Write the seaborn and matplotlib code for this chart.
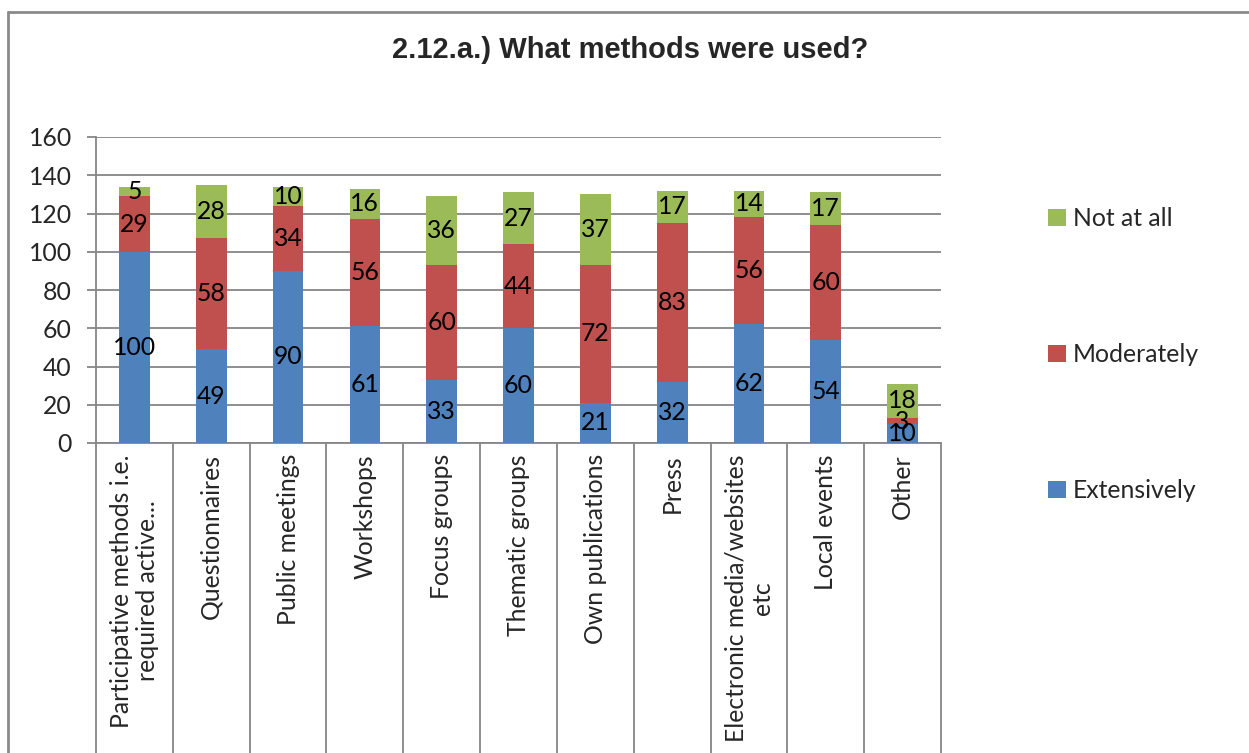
import matplotlib
matplotlib.use("Agg")
import matplotlib.pyplot as plt
from matplotlib.lines import Line2D
from matplotlib.patches import Patch
import numpy as np
import pandas as pd
import seaborn as sns

categories = [
    "Participative methods i.e.\nrequired active...",
    "Questionnaires",
    "Public meetings",
    "Workshops",
    "Focus groups",
    "Thematic groups",
    "Own publications",
    "Press",
    "Electronic media/websites\netc",
    "Local events",
    "Other",
]
extensively = [100, 49, 90, 61, 33, 60, 21, 32, 62, 54, 10]
moderately = [29, 58, 34, 56, 60, 44, 72, 83, 56, 60, 3]
not_at_all = [5, 28, 10, 16, 36, 27, 37, 17, 14, 17, 18]
series_names = ["Extensively", "Moderately", "Not at all"]
y_ticks = [0, 20, 40, 60, 80, 100, 120, 140, 160]

colors = {"Extensively": "#4F81BD", "Moderately": "#C0504D", "Not at all": "#9BBB59"}
grid_gray = "#868686"

sns.set_style("white")
plt.rcParams["font.family"] = ["Lato", "DejaVu Sans"]

df = pd.DataFrame({
    "category": categories,
    "Extensively": extensively,
    "Moderately": moderately,
    "Not at all": not_at_all,
})
df["cum1"] = df["Extensively"]
df["cum2"] = df["cum1"] + df["Moderately"]
df["cum3"] = df["cum2"] + df["Not at all"]

fig = plt.figure(figsize=(12.49, 7.53), dpi=100)
ax = fig.add_axes([96 / 1249, 310 / 753, 845 / 1249, 306 / 753])

# stacked bars: draw cumulative totals back to front
for col, name in [("cum3", "Not at all"), ("cum2", "Moderately"), ("cum1", "Extensively")]:
    sns.barplot(data=df, x="category", y=col, order=categories, color=colors[name],
                saturation=1, width=0.4, ax=ax, zorder=3, edgecolor="none")

# value labels centred in each segment
label_size = 17.8
for i in range(len(categories)):
    base = 0
    for name in series_names:
        v = df[name].iloc[i]
        ax.text(i, base + v / 2, f"{v}", ha="center", va="center",
                fontsize=label_size, color="black", zorder=5)
        base += v

ax.set_ylim(0, 160)
ax.set_xlim(-0.5, len(categories) - 0.5)
ax.set_yticks(y_ticks)
ax.set_yticklabels([str(t) for t in y_ticks], fontsize=label_size)
ax.yaxis.grid(True, color=grid_gray, linewidth=1.3, zorder=0)
ax.set_axisbelow(True)
ax.tick_params(axis="y", length=6.5, width=1.3, color=grid_gray, pad=11, left=True)

ax.set_xticks(range(len(categories)))
ax.set_xticklabels(categories, rotation=90, fontsize=label_size, ha="center", va="top",
                   multialignment="center")
ax.tick_params(axis="x", which="major", length=0, pad=8)
ax.set_xticks(np.arange(-0.5, len(categories)), minor=True)
ax.tick_params(axis="x", which="minor", length=240, width=1.3, color=grid_gray, bottom=True)
ax.set_xlabel("")
ax.set_ylabel("")

for side in ["top", "right"]:
    ax.spines[side].set_visible(False)
for side in ["left", "bottom"]:
    ax.spines[side].set_color(grid_gray)
    ax.spines[side].set_linewidth(1.3)

# legend, top entry first
handles = [Patch(facecolor=colors[n], edgecolor="none") for n in reversed(series_names)]
fig.legend(handles, list(reversed(series_names)), loc="upper left",
           bbox_to_anchor=(1026 / 1249, 1 - 185 / 753), frameon=False,
           fontsize=label_size, handlelength=0.7, handleheight=0.7,
           handletextpad=0.3, labelspacing=4.57)

fig.suptitle("2.12.a.) What methods were used?", x=630 / 1249, y=1 - 36 / 753,
             fontsize=21, fontweight="bold", family=["Liberation Sans", "DejaVu Sans"],
             va="top")

# chart area frame
fig.add_artist(Line2D([8 / 1249, 8 / 1249], [0, 1 - 12 / 753], transform=fig.transFigure,
                      color="#8a8a8a", linewidth=2))
fig.add_artist(Line2D([8 / 1249, 1], [1 - 12 / 753, 1 - 12 / 753], transform=fig.transFigure,
                      color="#8a8a8a", linewidth=2))

fig.savefig("out.png", dpi=100)
